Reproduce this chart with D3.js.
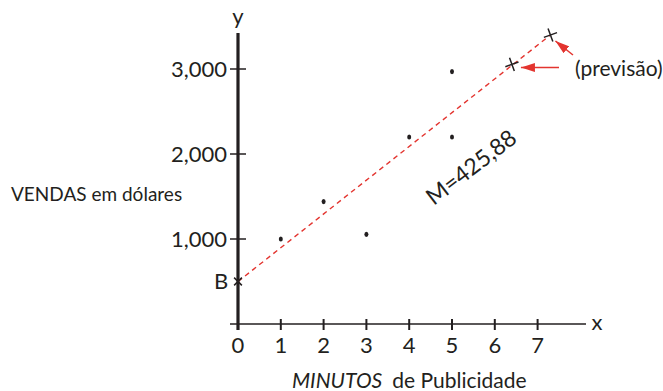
<!DOCTYPE html>
<html>
<head>
<meta charset="utf-8">
<script src="https://cdn.jsdelivr.net/npm/d3@7"></script>
<style>
  body { margin: 0; background: #fff; }
  svg { font-family: Lato, "Open Sans", sans-serif; }
</style>
</head>
<body>
<div id="chart"></div>
<script>
// data
let minutos = [1, 2, 3, 4, 5, 5];
let vendas = [1000, 1440, 1055, 2200, 2200, 2970];
let xTicks = [0, 1, 2, 3, 4, 5, 6, 7];
let yTicks = [1000, 2000, 3000];
let interceptB = 500;
let previsaoX = [6.4, 7.3];
let previsaoY = [3055, 3400];

let width = 663, height = 391;
let ink = "#231f20";
let red = "#e3342f";

let xScale = d3.scaleLinear().domain([0, 7]).range([238, 537.6]);
let yScale = d3.scaleLinear().domain([0, 3000]).range([324, 69]);

let svg = d3.select("#chart").append("svg")
    .attr("width", width).attr("height", height);

let defs = svg.append("defs");
defs.append("marker")
    .attr("id", "arrow")
    .attr("viewBox", "0 0 14 9")
    .attr("refX", 14).attr("refY", 4.5)
    .attr("markerWidth", 14).attr("markerHeight", 9)
    .attr("markerUnits", "userSpaceOnUse")
    .attr("orient", "auto")
    .append("path").attr("d", "M0,0 L14,4.5 L0,9 Z").attr("fill", red);

// x axis
svg.append("line")
    .attr("x1", 230).attr("x2", 586)
    .attr("y1", yScale(0)).attr("y2", yScale(0))
    .attr("stroke", ink).attr("stroke-width", 1.5);

svg.selectAll(".xtick").data(xTicks).enter().append("line")
    .attr("x1", d => xScale(d)).attr("x2", d => xScale(d))
    .attr("y1", yScale(0) - 5).attr("y2", yScale(0) + 6)
    .attr("stroke", ink).attr("stroke-width", 2);

svg.selectAll(".xlab").data(xTicks).enter().append("text")
    .attr("x", d => xScale(d)).attr("y", 353)
    .attr("text-anchor", "middle")
    .attr("font-size", 22).attr("fill", ink)
    .text(d => d);

// y axis
svg.append("line")
    .attr("x1", xScale(0)).attr("x2", xScale(0))
    .attr("y1", 33).attr("y2", yScale(0) + 6)
    .attr("stroke", ink).attr("stroke-width", 3.2);

svg.selectAll(".ytick").data(yTicks).enter().append("line")
    .attr("x1", xScale(0) - 8).attr("x2", xScale(0) + 8)
    .attr("y1", d => yScale(d)).attr("y2", d => yScale(d))
    .attr("stroke", ink).attr("stroke-width", 1.5);

svg.selectAll(".ylab").data(yTicks).enter().append("text")
    .attr("x", 227).attr("y", d => yScale(d))
    .attr("dy", "0.36em")
    .attr("text-anchor", "end")
    .attr("font-size", 22).attr("fill", ink)
    .text(d => d3.format(",")(d));

svg.append("text").attr("x", 238).attr("y", 24)
    .attr("text-anchor", "middle").attr("font-size", 22).attr("fill", ink).text("y");
svg.append("text").attr("x", 597).attr("y", 330)
    .attr("text-anchor", "middle").attr("font-size", 22).attr("fill", ink).text("x");

// axis titles
svg.append("text").attr("x", 11).attr("y", 201)
    .attr("font-size", 19).attr("fill", ink)
    .text("VENDAS em dólares");

let xt = svg.append("text").attr("x", 292).attr("y", 388)
    .attr("font-size", 21).attr("fill", ink);
xt.append("tspan").attr("font-style", "italic").text("MINUTOS");
xt.append("tspan").attr("dx", 10).text("de Publicidade");

// regression line
svg.append("line")
    .attr("x1", xScale(0)).attr("y1", yScale(interceptB))
    .attr("x2", xScale(previsaoX[1])).attr("y2", yScale(previsaoY[1]))
    .attr("stroke", red).attr("stroke-width", 1.4)
    .attr("stroke-dasharray", "5,4");

// data points
svg.selectAll(".pt").data(minutos).enter().append("ellipse")
    .attr("cx", d => xScale(d))
    .attr("cy", (d, i) => yScale(vendas[i]))
    .attr("rx", 2).attr("ry", 2.6)
    .attr("fill", ink);

// crosses
function cross(x, y, angle, s) {
    svg.append("path")
        .attr("d", `M${-s},0 L${s},0 M0,${-s} L0,${s}`)
        .attr("transform", `translate(${x},${y}) rotate(${angle})`)
        .attr("stroke", ink).attr("stroke-width", 1.5).attr("fill", "none");
}
cross(xScale(0), yScale(interceptB), 45, 5.5);
previsaoX.forEach((d, i) => cross(xScale(d), yScale(previsaoY[i]), -20, 7));

svg.append("text").attr("x", 221).attr("y", yScale(interceptB))
    .attr("dy", "0.36em").attr("text-anchor", "middle")
    .attr("font-size", 22).attr("fill", ink).text("B");

// arrows to the predictions
svg.append("line")
    .attr("x1", 559).attr("y1", 67.5)
    .attr("x2", xScale(previsaoX[0]) + 9).attr("y2", 67.5)
    .attr("stroke", red).attr("stroke-width", 1.5)
    .attr("marker-end", "url(#arrow)");
svg.append("line")
    .attr("x1", 573).attr("y1", 55)
    .attr("x2", xScale(previsaoX[1]) + 5).attr("y2", yScale(previsaoY[1]) + 6)
    .attr("stroke", red).attr("stroke-width", 1.5)
    .attr("marker-end", "url(#arrow)");

svg.append("text").attr("x", 575).attr("y", 68)
    .attr("dy", "0.36em")
    .attr("font-size", 21).attr("fill", ink).text("(previsão)");

// slope label
svg.append("text")
    .attr("transform", "translate(471,167) rotate(-37.5)")
    .attr("text-anchor", "middle").attr("dy", "0.36em")
    .attr("font-size", 23).attr("fill", ink)
    .text("M=425,88");
</script>
</body>
</html>
